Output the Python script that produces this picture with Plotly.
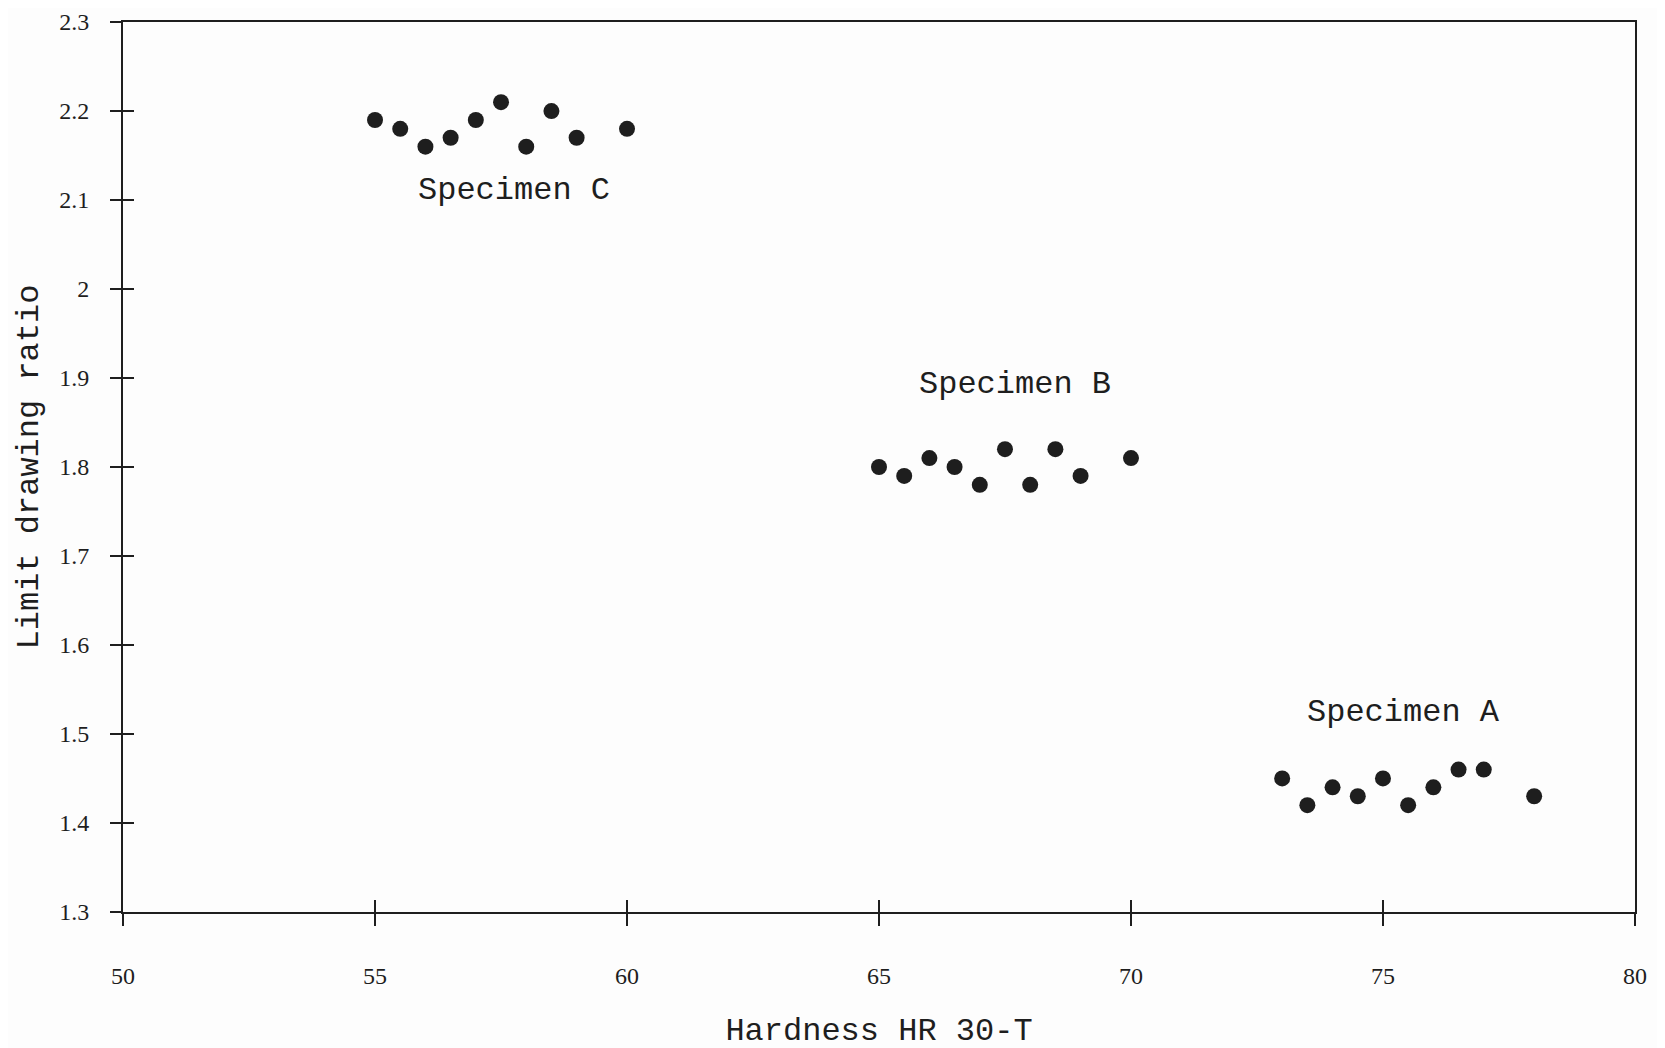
import plotly.graph_objects as go

# Data
hard_c = [55, 55.5, 56, 56.5, 57, 57.5, 58, 58.5, 59, 60]
ldr_c = [2.19, 2.18, 2.16, 2.17, 2.19, 2.21, 2.16, 2.20, 2.17, 2.18]
hard_b = [65, 65.5, 66, 66.5, 67, 67.5, 68, 68.5, 69, 70]
ldr_b = [1.80, 1.79, 1.81, 1.80, 1.78, 1.82, 1.78, 1.82, 1.79, 1.81]
hard_a = [73, 73.5, 74, 74.5, 75, 75.5, 76, 76.5, 77, 78]
ldr_a = [1.45, 1.42, 1.44, 1.43, 1.45, 1.42, 1.44, 1.46, 1.46, 1.43]

labels = ["Specimen C", "Specimen B", "Specimen A"]
label_x = [57.75, 67.7, 75.4]
label_y = [2.111, 1.893, 1.524]

x_ticks = [50, 55, 60, 65, 70, 75, 80]
y_ticks = [1.3, 1.4, 1.5, 1.6, 1.7, 1.8, 1.9, 2.0, 2.1, 2.2, 2.3]

INK = "#1e1e1e"
MONO = "Liberation Mono, Courier New, monospace"
SERIF = "Liberation Serif, Times New Roman, serif"

fig = go.Figure()
for xs, ys in [(hard_c, ldr_c), (hard_b, ldr_b), (hard_a, ldr_a)]:
    fig.add_trace(go.Scatter(x=xs, y=ys, mode="markers",
                             marker=dict(size=16, color=INK),
                             showlegend=False, hoverinfo="x+y"))

for t, x, y in zip(labels, label_x, label_y):
    fig.add_annotation(x=x, y=y, text=t, showarrow=False,
                       font=dict(family=MONO, size=32, color=INK))

xr = [49.999, 80.001]
yr = [1.2999, 2.3001]

fig.update_layout(
    width=1665, height=1048,
    margin=dict(l=115, r=38, t=14, b=144, autoexpand=False),
    paper_bgcolor="#fdfdfd", plot_bgcolor="#fdfdfd",
    xaxis=dict(range=xr, tickvals=x_ticks, ticks="outside", ticklen=12, tickwidth=2,
               tickcolor=INK, showline=True, linecolor=INK, linewidth=2, mirror=True,
               showgrid=False, zeroline=False, ticklabelstandoff=29, automargin=False,
               ticklabeloverflow="allow",
               tickfont=dict(family=SERIF, size=24, color=INK),
               title=dict(text="Hardness HR 30-T", standoff=30,
                          font=dict(family=MONO, size=32, color=INK))),
    yaxis=dict(range=yr, tickvals=y_ticks, ticks="outside", ticklen=11, tickwidth=2,
               tickcolor=INK, showline=True, linecolor=INK, linewidth=2, mirror=True,
               showgrid=False, zeroline=False, ticklabelstandoff=16, automargin=False,
               ticklabeloverflow="allow",
               tickfont=dict(family=SERIF, size=24, color=INK),
               title=dict(text="Limit drawing ratio", standoff=11,
                          font=dict(family=MONO, size=32, color=INK))),
    xaxis2=dict(range=xr, tickvals=x_ticks, ticks="inside", ticklen=12, tickwidth=2,
                tickcolor=INK, showticklabels=False, overlaying="x", anchor="y",
                side="bottom", showgrid=False, zeroline=False, showline=False),
    yaxis2=dict(range=yr, tickvals=y_ticks, ticks="inside", ticklen=11, tickwidth=2,
                tickcolor=INK, showticklabels=False, overlaying="y", anchor="x",
                side="left", showgrid=False, zeroline=False, showline=False),
)
# invisible trace so the overlay axes are drawn
fig.add_trace(go.Scatter(x=[None], y=[None], xaxis="x2", yaxis="y2",
                         showlegend=False, hoverinfo="skip"))

fig.write_html("out.html")
